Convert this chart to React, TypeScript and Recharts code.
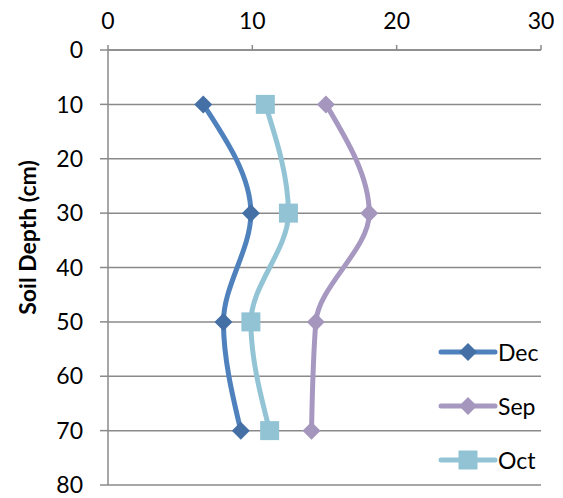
import React from 'react';
import { LineChart, Line, XAxis, YAxis, CartesianGrid } from 'recharts';

const depths = [10, 30, 50, 70];
const decValues = [6.6, 9.9, 8.0, 9.2];
const sepValues = [15.1, 18.1, 14.4, 14.1];
const octValues = [10.9, 12.5, 9.9, 11.2];
const xTicks = [0, 10, 20, 30];
const yTicks = [0, 10, 20, 30, 40, 50, 60, 70, 80];

const data = depths.map((depth, i) => ({
  depth,
  Dec: decValues[i],
  Sep: sepValues[i],
  Oct: octValues[i],
}));

const FONT = 'Lato, "Open Sans", sans-serif';
const GRID = '#8a8a8a';

const diamond = (fill: string) => (props: any) => {
  const { cx, cy, index } = props;
  if (cx == null || cy == null) return <g key={`d-${index}`} />;
  const r = 9;
  return (
    <path
      key={`d-${index}`}
      d={`M${cx},${cy - r}L${cx + r},${cy}L${cx},${cy + r}L${cx - r},${cy}Z`}
      fill={fill}
    />
  );
};

const square = (fill: string) => (props: any) => {
  const { cx, cy, index } = props;
  if (cx == null || cy == null) return <g key={`s-${index}`} />;
  const h = 9.5;
  return <rect key={`s-${index}`} x={cx - h} y={cy - h} width={h * 2} height={h * 2} fill={fill} />;
};

const seriesStyle: Record<string, { line: string; marker: string; shape: 'diamond' | 'square' }> = {
  Dec: { line: '#4f81bd', marker: '#4470a6', shape: 'diamond' },
  Sep: { line: '#a698c1', marker: '#a596bd', shape: 'diamond' },
  Oct: { line: '#93c4d6', marker: '#92c3d5', shape: 'square' },
};
const seriesNames = ['Dec', 'Sep', 'Oct'];

const LegendBox = () => (
  <div style={{ position: 'absolute', left: 438, top: 325, fontFamily: FONT, fontSize: 23, color: '#000' }}>
    {seriesNames.map((name) => {
      const s = seriesStyle[name];
      return (
        <div key={name} style={{ display: 'flex', alignItems: 'center', height: 54 }}>
          <svg width={60} height={20}>
            <line x1={3} y1={10} x2={57} y2={10} stroke={s.line} strokeWidth={5} strokeLinecap="round" />
            {s.shape === 'diamond' ? (
              <path d="M30,1L39,10L30,19L21,10Z" fill={s.marker} />
            ) : (
              <rect x={20.5} y={0.5} width={19} height={19} fill={s.marker} />
            )}
          </svg>
          <span>{name}</span>
        </div>
      );
    })}
  </div>
);

const AxisTitle = (props: any) => {
  const { viewBox } = props;
  const x = viewBox.x + 17;
  const y = viewBox.y + viewBox.height / 2 - 30;
  return (
    <text
      x={x}
      y={y}
      transform={`rotate(-90, ${x}, ${y})`}
      textAnchor="middle"
      dominantBaseline="central"
      fontFamily={FONT}
      fontSize={23}
      fontWeight="bold"
      fill="#000"
    >
      Soil Depth (cm)
    </text>
  );
};

export default function App() {
  return (
    <div style={{ position: 'relative', width: 563, height: 498 }}>
      <style>{'body{margin:0}'}</style>
      <LineChart
        width={563}
        height={498}
        data={data}
        layout="vertical"
        margin={{ top: 20, right: 22, bottom: 13, left: 10 }}
      >
        <CartesianGrid horizontal={true} vertical={false} stroke={GRID} strokeWidth={1.5} />
        <XAxis
          type="number"
          orientation="top"
          domain={[0, 30]}
          ticks={xTicks}
          height={30}
          stroke={GRID}
          strokeWidth={1.5}
          tickSize={5}
          tickMargin={16}
          tick={{ fill: '#000', fontSize: 23, fontFamily: FONT }}
        />
        <YAxis
          type="number"
          dataKey="depth"
          domain={[0, 80]}
          ticks={yTicks}
          width={98}
          stroke={GRID}
          strokeWidth={1.5}
          tickSize={8}
          tickMargin={17}
          tick={{ fill: '#000', fontSize: 23, fontFamily: FONT }}
          label={<AxisTitle />}
        />
        {seriesNames.map((name) => {
          const s = seriesStyle[name];
          return (
            <Line
              key={name}
              type="monotone"
              dataKey={name}
              stroke={s.line}
              strokeWidth={5}
              dot={s.shape === 'diamond' ? diamond(s.marker) : square(s.marker)}
              isAnimationActive={false}
            />
          );
        })}
      </LineChart>
      <LegendBox />
    </div>
  );
}
